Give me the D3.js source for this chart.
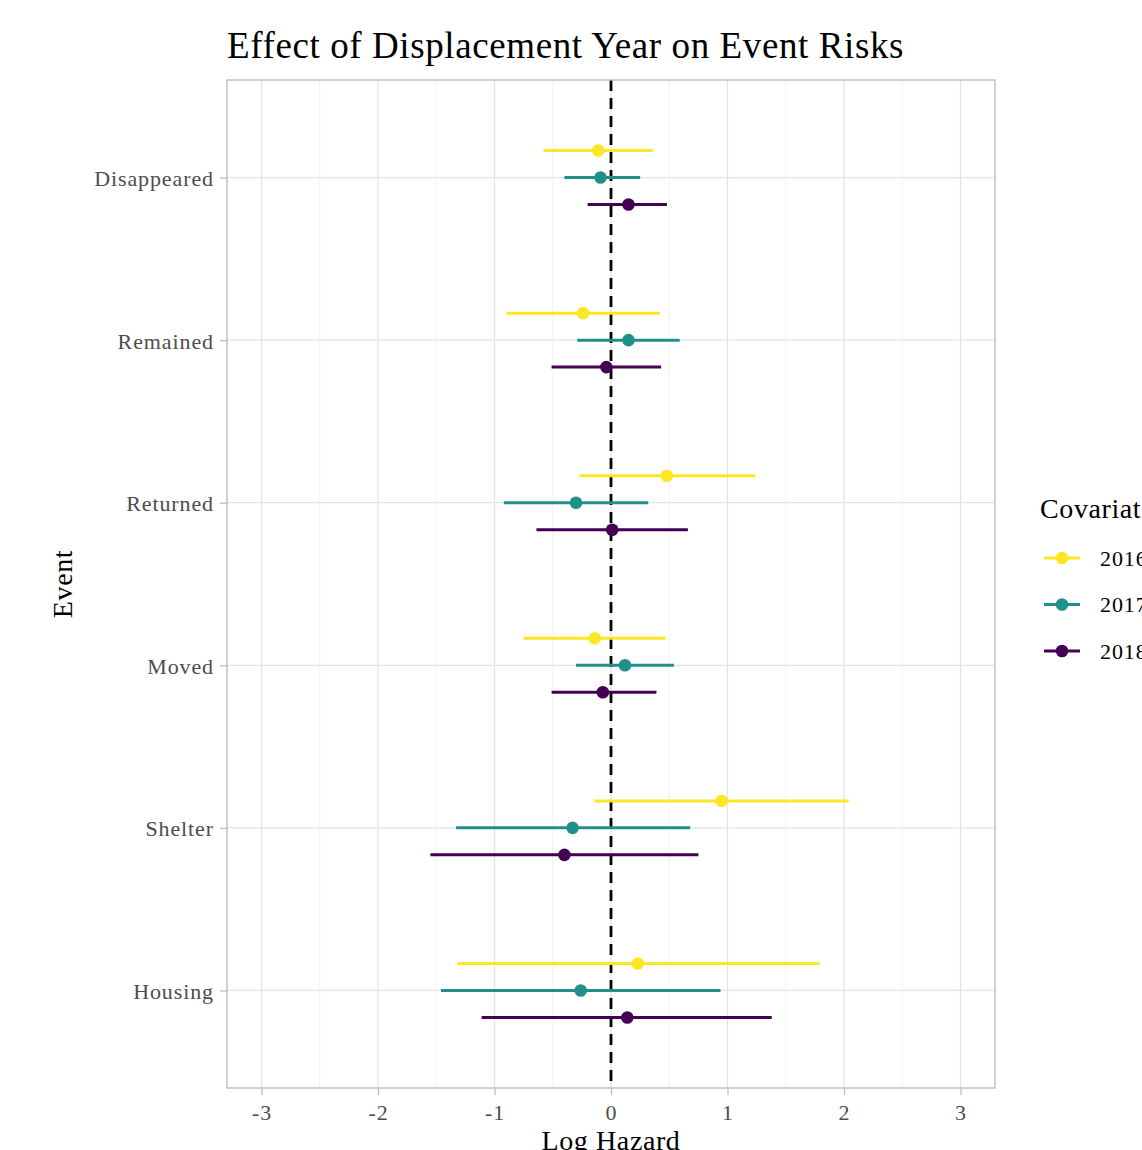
<!DOCTYPE html>
<html>
<head>
<meta charset="utf-8">
<script src="https://cdn.jsdelivr.net/npm/d3@7"></script>
<style>
  html, body { margin: 0; padding: 0; background: #fff; overflow: hidden; }
  svg { display: block; font-family: "Liberation Serif", "DejaVu Serif", serif; }
</style>
</head>
<body>
<div id="chart"></div>
<script>
// Data
const events = ["Disappeared", "Remained", "Returned", "Moved", "Shelter", "Housing"];
const years = ["2016", "2017", "2018"];
const colors = ["#FDE725", "#21908C", "#440154"];

// estimate / lower / upper per event, one array per year (same order as events)
const est2016 = [-0.11, -0.24, 0.48, -0.14, 0.95, 0.23];
const lo2016  = [-0.58, -0.90, -0.27, -0.75, -0.14, -1.32];
const hi2016  = [0.36, 0.42, 1.24, 0.47, 2.04, 1.79];

const est2017 = [-0.09, 0.15, -0.30, 0.12, -0.33, -0.26];
const lo2017  = [-0.40, -0.29, -0.92, -0.30, -1.33, -1.46];
const hi2017  = [0.25, 0.59, 0.32, 0.54, 0.68, 0.94];

const est2018 = [0.15, -0.04, 0.01, -0.07, -0.40, 0.14];
const lo2018  = [-0.20, -0.51, -0.64, -0.51, -1.55, -1.11];
const hi2018  = [0.48, 0.43, 0.66, 0.39, 0.75, 1.38];

const xTicks = [-3, -2, -1, 0, 1, 2, 3];

const series = [
    { year: years[0], color: colors[0], est: est2016, lo: lo2016, hi: hi2016 },
    { year: years[1], color: colors[1], est: est2017, lo: lo2017, hi: hi2017 },
    { year: years[2], color: colors[2], est: est2018, lo: lo2018, hi: hi2018 }
];

const rows = series.flatMap((s, si) =>
    events.map((ev, i) => ({ event: ev, si, color: s.color, est: s.est[i], lo: s.lo[i], hi: s.hi[i] })));

// Layout
const W = 1142, H = 1150;
const panel = { left: 227, right: 995, top: 80, bottom: 1088 };

const svg = d3.select("#chart").append("svg")
    .attr("width", W)
    .attr("height", H);

const x = d3.scaleLinear()
    .domain([-3.296, 3.296])
    .range([panel.left, panel.right]);

// discrete axis with ggplot-like 0.6 expansion
const y = d3.scalePoint()
    .domain(events)
    .range([panel.top, panel.bottom])
    .padding(0.6);

const dodge = y.step() * 0.166;

// Minor grid
svg.append("g")
    .selectAll("line")
    .data(d3.range(-3.5, 3.51, 1).filter(v => x(v) > panel.left && x(v) < panel.right))
    .join("line")
    .attr("x1", d => x(d)).attr("x2", d => x(d))
    .attr("y1", panel.top).attr("y2", panel.bottom)
    .attr("stroke", "#efefef")
    .attr("stroke-width", 0.8);

// Major grid
svg.append("g")
    .selectAll("line")
    .data(xTicks)
    .join("line")
    .attr("x1", d => x(d)).attr("x2", d => x(d))
    .attr("y1", panel.top).attr("y2", panel.bottom)
    .attr("stroke", "#e3e3e3")
    .attr("stroke-width", 1.3);

svg.append("g")
    .selectAll("line")
    .data(events)
    .join("line")
    .attr("x1", panel.left).attr("x2", panel.right)
    .attr("y1", d => y(d)).attr("y2", d => y(d))
    .attr("stroke", "#e3e3e3")
    .attr("stroke-width", 1.3);

// Zero reference line
svg.append("line")
    .attr("x1", x(0)).attr("x2", x(0))
    .attr("y1", panel.top).attr("y2", panel.bottom)
    .attr("stroke", "#000")
    .attr("stroke-width", 2.8)
    .attr("stroke-dasharray", "11,7");

// Error bars and points
const marks = svg.append("g");
const yPos = d => y(d.event) + (d.si - 1) * dodge;

marks.selectAll("line.err")
    .data(rows)
    .join("line")
    .attr("class", "err")
    .attr("x1", d => x(d.lo)).attr("x2", d => x(d.hi))
    .attr("y1", yPos).attr("y2", yPos)
    .attr("stroke", d => d.color)
    .attr("stroke-width", 3);

marks.selectAll("circle")
    .data(rows)
    .join("circle")
    .attr("cx", d => x(d.est))
    .attr("cy", yPos)
    .attr("r", 6.3)
    .attr("fill", d => d.color);

// Panel border
svg.append("rect")
    .attr("x", panel.left).attr("y", panel.top)
    .attr("width", panel.right - panel.left)
    .attr("height", panel.bottom - panel.top)
    .attr("fill", "none")
    .attr("stroke", "#bdbdbd")
    .attr("stroke-width", 1.4);

// Axes
const xAxis = svg.append("g")
    .attr("transform", `translate(0,${panel.bottom})`)
    .call(d3.axisBottom(x).tickValues(xTicks).tickSize(7).tickPadding(5).tickFormat(d => String(d)));

const yAxis = svg.append("g")
    .attr("transform", `translate(${panel.left},0)`)
    .call(d3.axisLeft(y).tickSize(7).tickPadding(6));

[xAxis, yAxis].forEach(g => {
    g.select(".domain").remove();
    g.selectAll(".tick line").attr("stroke", "#bdbdbd").attr("stroke-width", 1.3);
    g.selectAll(".tick text")
        .attr("fill", "#4d4d4d")
        .style("font-family", "'Liberation Serif', serif")
        .style("font-size", "22px")
        .style("letter-spacing", "0.9px");
});
xAxis.selectAll(".tick text").attr("dy", "0.9em");
yAxis.selectAll(".tick text").attr("dy", "0.36em");

// Titles
svg.append("text")
    .attr("x", panel.left)
    .attr("y", 58)
    .attr("font-size", 37)
    .attr("letter-spacing", 0.6)
    .attr("fill", "#000")
    .text("Effect of Displacement Year on Event Risks");

svg.append("text")
    .attr("x", x(0))
    .attr("y", 1150)
    .attr("text-anchor", "middle")
    .attr("font-size", 28)
    .attr("letter-spacing", 0.6)
    .attr("fill", "#000")
    .text("Log Hazard");

svg.append("text")
    .attr("transform", `translate(72,${(panel.top + panel.bottom) / 2}) rotate(-90)`)
    .attr("text-anchor", "middle")
    .attr("font-size", 28)
    .attr("letter-spacing", 0.6)
    .attr("fill", "#000")
    .text("Event");

// Legend
const legend = svg.append("g").attr("transform", "translate(1040,0)");
legend.append("text")
    .attr("x", 0).attr("y", 518)
    .attr("font-size", 28)
    .attr("letter-spacing", 0.6)
    .attr("fill", "#000")
    .text("Covariate");

const items = legend.selectAll("g.item")
    .data(series)
    .join("g")
    .attr("class", "item")
    .attr("transform", (d, i) => `translate(0,${558 + i * 46.5})`);

items.append("line")
    .attr("x1", 4).attr("x2", 40)
    .attr("stroke", d => d.color)
    .attr("stroke-width", 3);
items.append("circle")
    .attr("cx", 22).attr("r", 6.3)
    .attr("fill", d => d.color);
items.append("text")
    .attr("x", 60).attr("dy", "0.35em")
    .attr("font-size", 22)
    .attr("letter-spacing", 0.9)
    .attr("fill", "#000")
    .text(d => d.year);
</script>
</body>
</html>
